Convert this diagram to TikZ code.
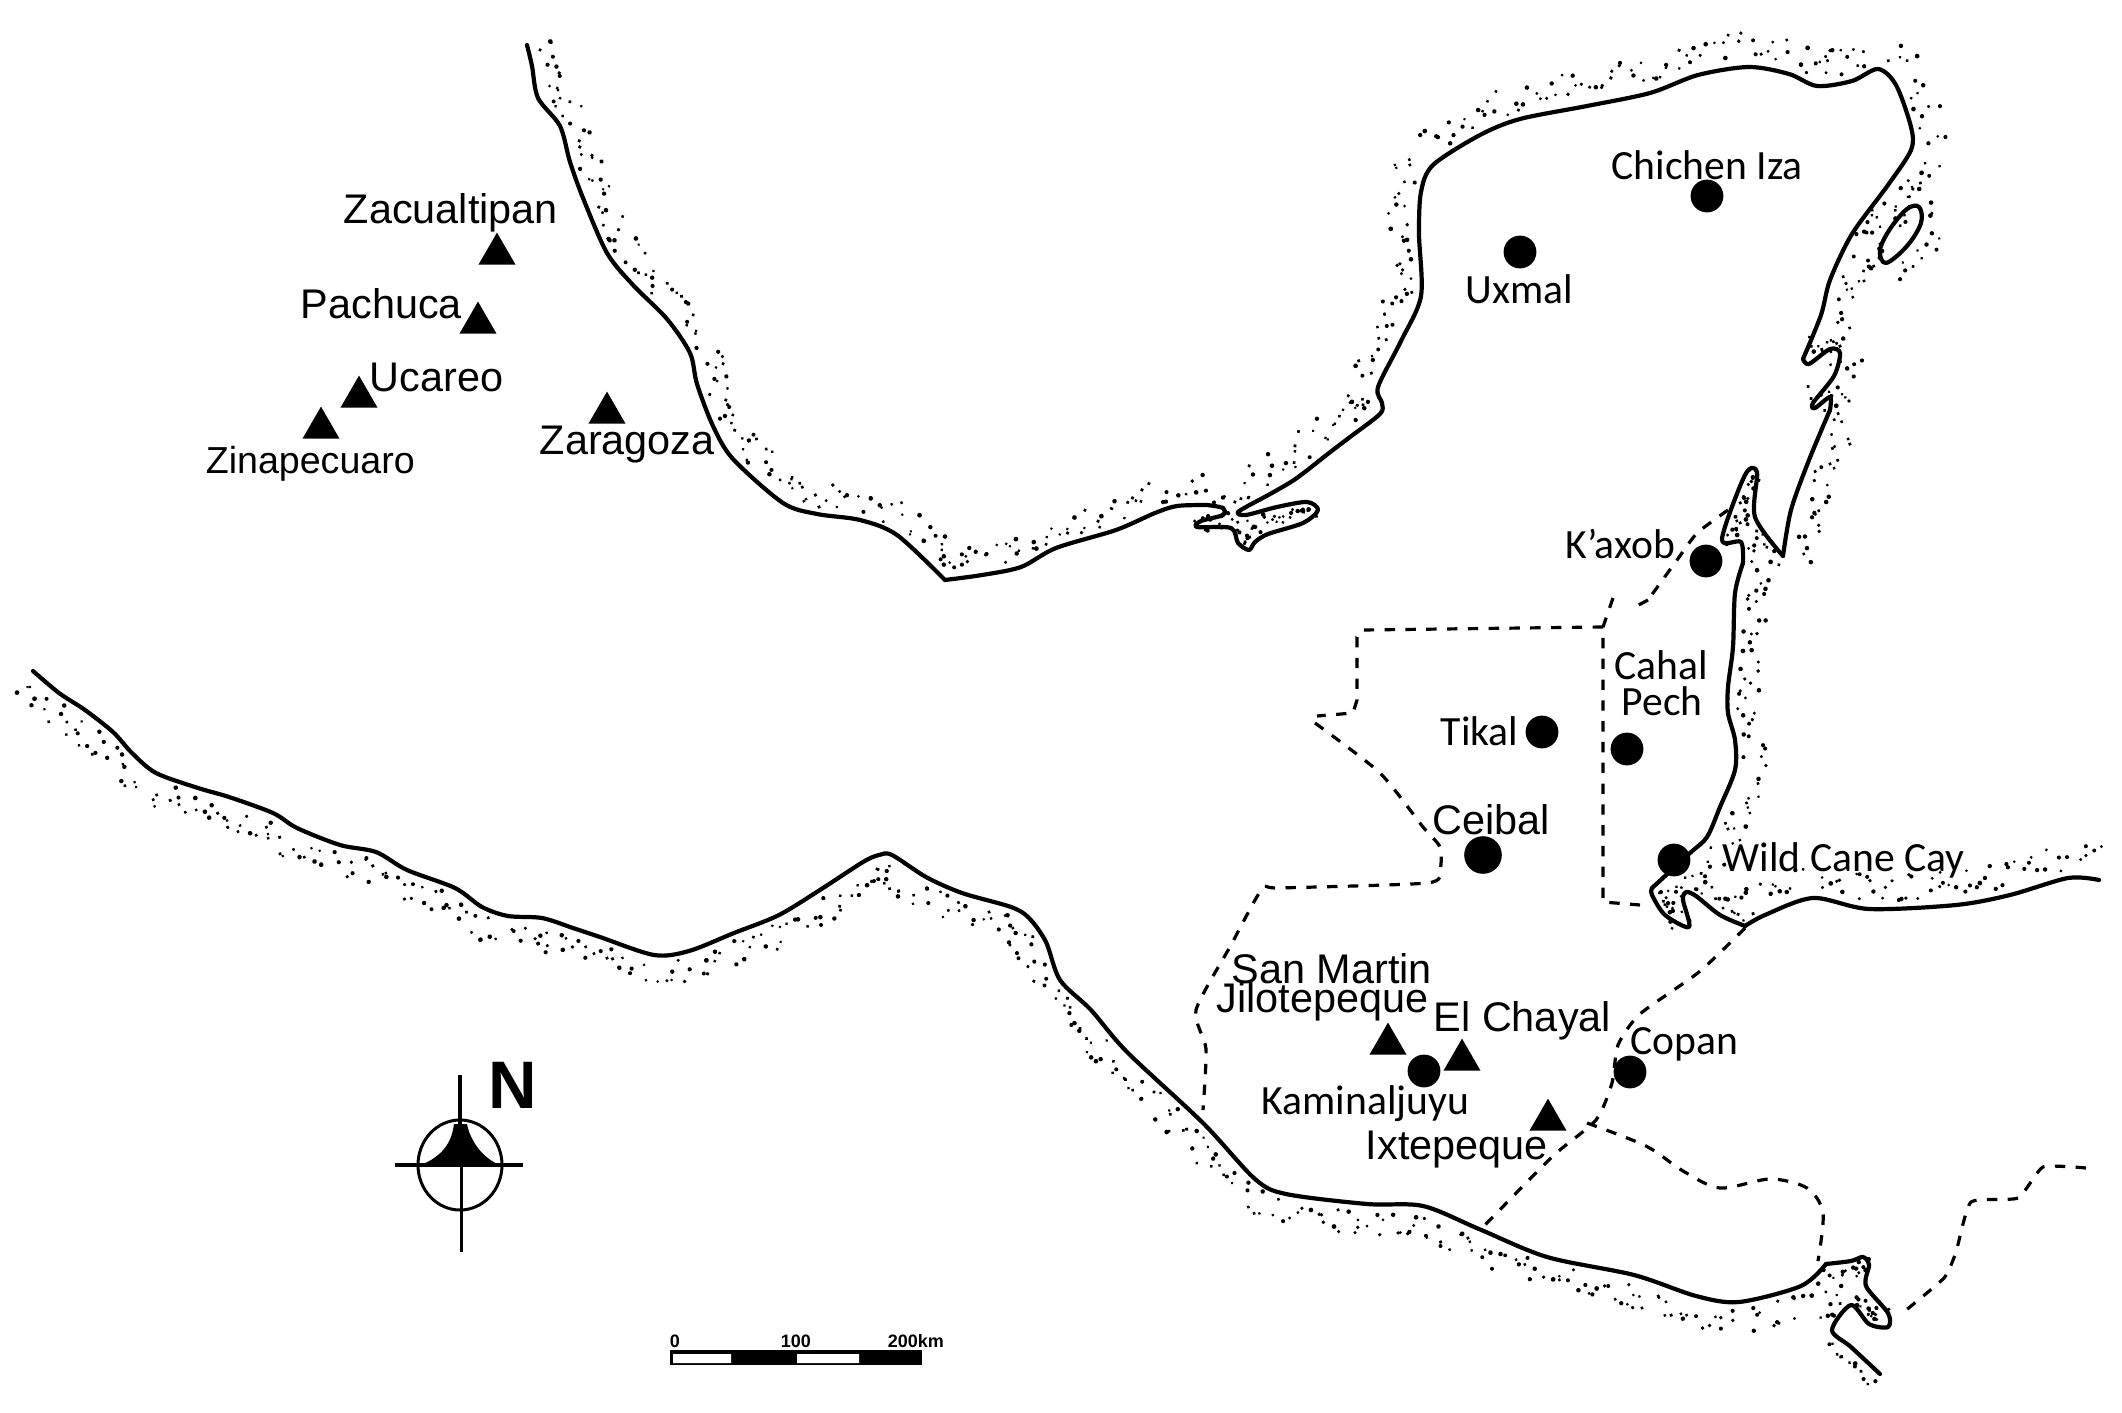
\documentclass[tikz,border=0pt]{standalone}
\usepackage{fontspec}
\setmainfont{Liberation Sans}
\newfontfamily\sitefont{Carlito}
\usetikzlibrary{decorations.markings,shapes.geometric}

\pgfmathsetseed{11}
% one stretch of coast: band of dots, then the points it runs through
\newcommand{\coastline}[2]{
	\path[stipple=#1] plot coordinates {#2};
	\draw[coast] plot[smooth,tension=.5] coordinates {#2};
}

\begin{document}
\begin{tikzpicture}[x=.25pt,y=-.25pt,
	coast/.style={line width=1.05pt,line join=round,line cap=round},
	border/.style={line width=.8pt,dash pattern=on 2.6pt off 2.6pt},
	stipple/.style={postaction={decorate},decoration={markings,
		mark=between positions 0 and 1 step 1.35pt with {
			\pgfmathsetmacro\dotoff{#1*(.22+.78*rnd)}
			\pgfmathsetmacro\dotrad{.36+.24*rnd}
			\pgfmathsetmacro\dotjit{1.2*rand}
			\fill (\dotjit pt,\dotoff pt) circle (\dotrad pt);}}},
	site/.style={circle,fill=black,inner sep=0pt,minimum size=8.2pt},
	quarry/.style={regular polygon,regular polygon sides=3,fill=black,inner sep=0pt,minimum size=10.7pt},
	bigname/.style={anchor=base west,inner sep=0pt,font=\fontsize{10.35}{12}\selectfont},
	thinname/.style={anchor=base west,inner sep=0pt,font=\sitefont\fontsize{10.4}{12}\selectfont}]

	\useasboundingbox (0,0) rectangle (2122,1413);

	% gulf and caribbean coast
	\coastline{8}{(527,45) (532,66) (538,98) (560,126) (570,162) (583,198) (607,253) (633,285) (667,319) (690,353) (697,384) (713,426) (733,459) (783,503) (817,514) (860,520) (897,535) (945,580)}
	\coastline{8}{(945,580) (982,575) (1021,567) (1056,548) (1116,530) (1155,513) (1177,506) (1207,505)}
	\coastline{3.5}{(1207,505) (1223,508) (1223,515) (1201,521) (1197,527) (1231,528) (1238,543) (1249,550) (1255,542) (1268,534) (1303,523) (1318,510) (1307,502) (1277,507) (1246,515) (1238,512) (1259,500)}
	\coastline{9}{(1259,500) (1294,480) (1329,453) (1350,437) (1380,414) (1382,403) (1378,387) (1401,341) (1421,296) (1419,234) (1421,192) (1433,165) (1480,135) (1520,119) (1587,106) (1650,93) (1698,75) (1749,67) (1789,74) (1817,86) (1852,81) (1878,69) (1896,85) (1911,127) (1911,150) (1888,185) (1852,234) (1830,280) (1821,315) (1803,359)}
	\coastline{6}{(1803,359) (1809,364) (1830,349) (1840,353) (1834,376) (1813,403) (1815,408) (1830,397) (1830,410)}
	\coastline{8}{(1830,410) (1809,460) (1791,510) (1783,556)}
	\coastline{3.5}{(1783,556) (1755,517) (1757,472) (1745,475) (1722,539) (1741,542) (1743,563)}
	\coastline{8}{(1743,563) (1735,593) (1733,647) (1728,687) (1728,713) (1735,740) (1735,770) (1720,807) (1707,837) (1690,853) (1652,888)}
	\coastline{4.5}{(1652,888) (1652,895) (1665,915) (1689,927) (1683,900) (1686,892) (1696,896) (1720,915) (1745,926)}
	\coastline{8.5}{(1745,926) (1765,915) (1813,898) (1869,909) (1956,905) (2010,895) (2068,878) (2099,880)}
	% island
	\draw[coast] plot[smooth cycle,tension=.6] coordinates {(1919,207) (1921,223) (1907,246) (1886,263) (1880,250) (1890,229) (1907,209)};
	\path[stipple=8] plot coordinates {(1919,207) (1921,223) (1907,246) (1886,263) (1880,250) (1890,229) (1907,209) (1919,207)};

	% pacific coast
	\coastline{-8}{(33,671) (59,693) (85,710) (113,732) (132,753) (156,773) (198,788) (229,797) (273,813) (297,828) (340,845) (376,852) (407,870) (455,888) (482,907) (508,916) (542,918) (573,928) (600,937) (654,955) (689,951) (734,933) (779,915) (823,888) (863,862) (879,855) (892,855) (926,877) (962,893) (1011,907) (1029,918) (1046,942) (1060,980) (1091,1010) (1127,1052) (1203,1123) (1255,1179) (1286,1194) (1367,1204) (1423,1206) (1479,1229) (1547,1257) (1634,1275) (1696,1296) (1739,1302) (1801,1286) (1826,1264)}
	\coastline{-4.5}{(1826,1264) (1851,1261) (1863,1257) (1869,1265) (1866,1286) (1888,1313) (1888,1327) (1869,1324) (1851,1305) (1832,1330) (1851,1347) (1880,1374)}

	% borders
	\draw[border] plot[smooth,tension=.3] coordinates {(1728,510) (1697,533) (1677,560) (1648,600)};
	\draw[border] (1648,600) -- (1633,608);
	\draw[border] (1613,598) -- (1603,627) -- (1603,902) -- (1640,905);
	\draw[border] (1603,627) -- (1362,630) -- (1357,637) -- (1357,700) -- (1353,713) -- (1317,716);
	\draw[border] plot[smooth,tension=.4] coordinates {(1315,723) (1380,773) (1423,827) (1440,847) (1440,870) (1427,883) (1280,888) (1262,889) (1231,945) (1196,1010) (1206,1049) (1203,1110)};
	\draw[border] plot[smooth,tension=.4] coordinates {(1745,928) (1699,972) (1640,1014) (1618,1045) (1612,1083) (1596,1120) (1553,1156) (1485,1225)};
	\draw[border] plot[smooth,tension=.5] coordinates {(1587,1123) (1646,1146) (1683,1171) (1720,1188) (1770,1179) (1807,1188) (1823,1213) (1818,1261)};
	\draw[border] plot[smooth,tension=.3] coordinates {(2086,1168) (2043,1167) (2018,1198) (1971,1202) (1956,1252) (1944,1278) (1900,1315)};

	% obsidian sources
	\node[quarry] (zacualtipan) at (497,254) {};
	\node[quarry] (pachuca) at (478,323) {};
	\node[quarry] (ucareo) at (359,397) {};
	\node[quarry] (zinapecuaro) at (321,428) {};
	\node[quarry] (zaragoza) at (607,413) {};
	\node[quarry] (sanmartin) at (1388,1044) {};
	\node[quarry] (elchayal) at (1462,1060) {};
	\node[quarry] (ixtepeque) at (1548,1120) {};

	% sites
	\node[site] (chichen) at (1707,196) {};
	\node[site] (uxmal) at (1520,252) {};
	\node[site] (kaxob) at (1706,561) {};
	\node[site] (tikal) at (1542,732) {};
	\node[site] (cahal) at (1627,749) {};
	\node[site,minimum size=9.4pt] (ceibal) at (1483,855) {};
	\node[site] (wildcane) at (1674,860) {};
	\node[site] (kaminaljuyu) at (1424,1071) {};
	\node[site] (copan) at (1630,1072) {};

	\node[bigname] (zacualtipanname) at (343,223) {Zacualtipan};
	\node[bigname] (pachucaname) at (300,318) {Pachuca};
	\node[bigname] (ucareoname) at (369,391) {Ucareo};
	\node[bigname,font=\fontsize{9.4}{12}\selectfont] (zinapecuaroname) at (205,473) {Zinapecuaro};
	\node[bigname] (zaragozaname) at (539,454) {Zaragoza};
	\node[bigname] (ceibalname) at (1432,834) {Ceibal};
	\node[bigname] (sanmartinname) at (1231,983) {San Martin};
	\node[bigname] (jilotepequename) at (1216,1012) {Jilotepeque};
	\node[bigname] (elchayalname) at (1433,1031) {El Chayal};
	\node[bigname] (ixtepequename) at (1365,1159) {Ixtepeque};

	\node[thinname] (chichenname) at (1611,179) {Chichen Iza};
	\node[thinname] (uxmalname) at (1465,303) {Uxmal};
	\node[thinname] (kaxobname) at (1565,558) {K’axob};
	\node[thinname] (tikalname) at (1440,745) {Tikal};
	\node[thinname] (cahalname) at (1614,679) {Cahal};
	\node[thinname] (pechname) at (1621,715) {Pech};
	\node[thinname] (wildcanename) at (1722,871) {Wild Cane Cay};
	\node[thinname] (copanname) at (1630,1054) {Copan};
	\node[thinname] (kaminaljuyuname) at (1261,1114) {Kaminaljuyu};

	% north arrow
	\draw[line width=.75pt] (460,1165) ellipse (42 and 45);
	\draw[line width=.9pt] (460,1075) -- (460,1165);
	\draw[line width=.75pt] (461,1165) -- (461,1252);
	\draw[line width=.9pt] (395,1165) -- (523,1165);
	\fill (421,1165) .. controls (445,1155) and (452,1140) .. (454,1124) -- (467,1124) .. controls (470,1140) and (482,1158) .. (500,1165) -- cycle;
	\node[anchor=base west,inner sep=0pt,font=\bfseries\fontsize{16.8}{18}\selectfont] (northname) at (488,1108) {N};

	% scale bar
	\fill (670,1350) rectangle (922,1365);
	\fill[white] (673,1354) rectangle (731,1363) (797,1354) rectangle (859,1363);
	\node[anchor=base west,inner sep=0pt,font=\bfseries\fontsize{4.5}{6}\selectfont] (zeroname) at (669,1347) {0};
	\node[anchor=base west,inner sep=0pt,font=\bfseries\fontsize{4.5}{6}\selectfont] (hundredname) at (780,1347) {100};
	\node[anchor=base west,inner sep=0pt,font=\bfseries\fontsize{4.5}{6}\selectfont] (twohundredname) at (887,1347) {200km};
\end{tikzpicture}
\end{document}
